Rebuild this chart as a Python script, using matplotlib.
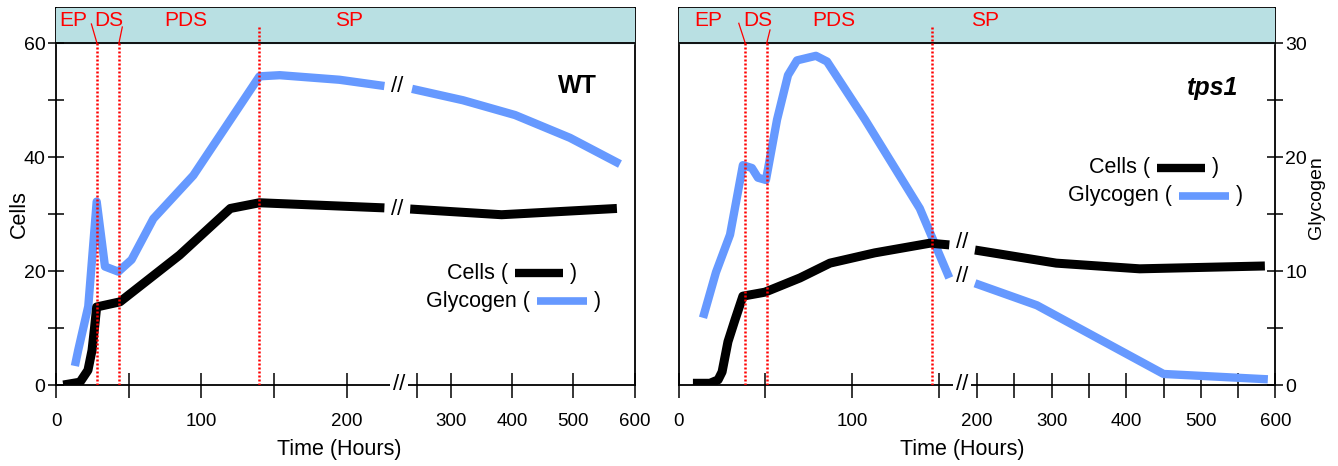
import numpy as np
import matplotlib
matplotlib.use("Agg")
import matplotlib.pyplot as plt
from matplotlib.lines import Line2D

plt.rcParams['font.family'] = ['Liberation Sans', 'DejaVu Sans']

W, H = 1338, 466

# ---- data (time in hours) ----
wt_cells_t = [5, 16.5, 22, 24.8, 26.5, 28, 44, 85, 120, 140, 226, 234, 383, 571]
wt_cells = [0, 0.5, 2.6, 6.1, 10, 13.7, 14.6, 22.8, 31, 32, 31.1, 30.9, 29.9, 31]
wt_glyc_t = [13, 15.3, 22.2, 28, 33.7, 42.9, 52, 67, 94.5, 140, 154, 195, 226,
             237, 320, 405, 494.5, 576]
wt_glyc = [1.67, 3.07, 6.9, 16.1, 10.4, 9.95, 11.0, 14.6, 18.4, 27.1, 27.2, 26.8, 26.25,
           26.0, 25.0, 23.7, 21.7, 19.4]
wt_phases = [28.2, 43.4, 139.8]

tps_cells_t = [8.2, 18, 22.7, 25, 28.4, 32.4, 37, 49.7, 69.9, 87.2, 113, 144.8, 156,
               197, 306, 418, 586]
tps_cells = [0.3, 0.3, 0.9, 2.3, 7.6, 11.4, 15.6, 16.3, 18.8, 21.4, 23.2, 24.9, 24.6,
             23.7, 21.4, 20.4, 20.9]
tps_glyc_t = [14, 21.5, 29.6, 37, 42.2, 45.7, 50.3, 56.7, 63, 68.2, 79.1, 85.5, 107.4,
              139, 156, 197, 280, 450, 590]
tps_glyc = [5.9, 9.9, 13.2, 19.3, 19.05, 18.2, 18.0, 23.3, 27.2, 28.5, 28.9, 28.4, 23.3,
            15.5, 9.4, 8.93, 7.0, 0.97, 0.5]
tps_phases = [38.4, 50.7, 146]

phase_names = ['EP', 'DS', 'PDS', 'SP']
xtick_major = [0, 100, 200, 300, 400, 500, 600]
wt_xminor = [50, 150, 245]
tps_xminor = [50, 150, 250, 350, 450, 550]

BLUE = '#6699ff'
RED = '#ff0000'
BAND = '#b9e0e3'


def px(x, y):
    return x / W, 1 - y / H


def broken_scale(hrs, pos):
    s0 = (pos[1] - pos[0]) / (hrs[1] - hrs[0])
    s1 = (pos[-1] - pos[-2]) / (hrs[-1] - hrs[-2])
    h = np.r_[-1000, hrs, 2000]
    p = np.r_[pos[0] - 1000 * s0, pos, pos[-1] + 1400 * s1]
    return (lambda x: np.interp(x, h, p)), (lambda y: np.interp(y, p, h))


def draw_broken(ax, t, v, brk, **kw):
    t = np.asarray(t, float)
    v = np.asarray(v, float)
    a = t <= brk[0]
    b = t >= brk[1]
    ax.plot(t[a], v[a], **kw)
    ax.plot(t[b], v[b], **kw)


fig = plt.figure(figsize=(W / 100, H / 100), dpi=100)


def panel(x0, x1, knots_h, knots_px, brk, cells_t, cells, glyc_t, glyc, phases, xminor):
    rect = [x0 / W, (H - 385) / H, (x1 - x0) / W, (385 - 8.3) / H]
    ax = fig.add_axes(rect)
    fwd, inv = broken_scale(knots_h, knots_px)
    ax.set_xscale('function', functions=(fwd, inv))
    ax.set_xlim(0, 600)
    ax.set_ylim(0, 30 * 376.7 / 341.7)
    axc = ax.twinx()
    axc.set_ylim(0, 60 * 376.7 / 341.7)

    ax.set_xticks(xtick_major)
    ax.set_xticks(xminor, minor=True)
    ax.tick_params(axis='x', which='both', direction='inout', length=18, width=1.1,
                   labelsize=13.5, pad=11)
    for s in ax.spines.values():
        s.set_linewidth(1.3)
    for s in axc.spines.values():
        s.set_visible(False)

    draw_broken(ax, glyc_t, glyc, brk, color=BLUE, lw=6, solid_capstyle='butt')
    draw_broken(axc, cells_t, cells, brk, color='black', lw=6.5, solid_capstyle='butt')

    axc.axhspan(60, 66.2, color=BAND, zorder=0)
    axc.axhline(60, color='black', lw=1.3, zorder=3)
    for i, t in enumerate(phases):
        top = 60 if i < 2 else 63.1
        axc.plot([t, t], [0, top], color=RED, lw=1.8, dashes=(0.8, 0.8), zorder=4)
    return ax, axc


# ---- left panel: WT ----
ax1, ax1c = panel(56, 634.7, [0, 226, 234, 600], [0, 328.4, 354.2, 578.7], (226, 234),
                  wt_cells_t, wt_cells, wt_glyc_t, wt_glyc, wt_phases, wt_xminor)
ax1.tick_params(axis='y', which='both', left=False, right=False,
                labelleft=False, labelright=False)
ax1c.yaxis.set_ticks_position('left')
ax1c.set_yticks([0, 20, 40, 60])
ax1c.set_yticks([10, 30, 50], minor=True)
ax1c.tick_params(axis='y', which='both', direction='inout', length=12, width=1.1,
                 labelsize=14, pad=1.5)

# ---- right panel: tps1 ----
ax2, ax2c = panel(678.7, 1275.3, [0, 156, 197, 600], [0, 270.6, 296.3, 596.6], (156, 197),
                  tps_cells_t, tps_cells, tps_glyc_t, tps_glyc, tps_phases, tps_xminor)
ax2c.tick_params(axis='y', which='both', left=False, right=False,
                 labelleft=False, labelright=False)
ax2.yaxis.tick_right()
ax2.set_yticks([0, 10, 20, 30])
ax2.set_yticks([5, 15, 25], minor=True)
ax2.tick_params(axis='y', which='both', direction='inout', length=12, width=1.1,
                labelsize=14, pad=1)

# ---- texts ----
fig.text(*px(339, 450), 'Time (Hours)', fontsize=15.5, ha='center', va='center')
fig.text(*px(962, 450), 'Time (Hours)', fontsize=15.5, ha='center', va='center')
fig.text(*px(19, 214), 'Cells', fontsize=15.5, rotation=90, ha='center', va='center')
fig.text(*px(1316, 198), 'Glycogen', fontsize=14, rotation=90, ha='center', va='center')
fig.text(*px(577, 86), 'WT', fontsize=18, fontweight='bold', ha='center', va='center')
fig.text(*px(1213, 88), 'tps1', fontsize=18, fontweight='bold', fontstyle='italic',
         ha='center', va='center')

for name, x in zip(phase_names, [73, 109, 186, 349]):
    fig.text(*px(x, 21), name, color=RED, fontsize=15, ha='center', va='center')
for name, x in zip(phase_names, [708, 758, 834, 985]):
    fig.text(*px(x, 21), name, color=RED, fontsize=15, ha='center', va='center')

for (xa, ya), (xb, yb) in [((91.4, 24), (97, 43.3)), ((122.3, 27), (118.9, 43.3)),
                           ((738.8, 23.3), (745.3, 43.3)), ((770, 30), (766.7, 43.3))]:
    fa, fb = px(xa, ya), px(xb, yb)
    fig.add_artist(Line2D([fa[0], fb[0]], [fa[1], fb[1]], color=RED, lw=0.9))

# legends
for (xc, yc, xg, yg) in [(508, 273, 530, 301), (1150, 168, 1172, 196)]:
    fig.text(*px(xc, yc), 'Cells (', fontsize=15.5, ha='right', va='center')
    fig.text(*px(xg, yg), 'Glycogen (', fontsize=15.5, ha='right', va='center')
    a, b = px(xc + 7, yc), px(xc + 55, yc)
    fig.add_artist(Line2D([a[0], b[0]], [a[1], b[1]], color='black', lw=6,
                          solid_capstyle='butt'))
    a, b = px(xg + 7, yg), px(xg + 57, yg)
    fig.add_artist(Line2D([a[0], b[0]], [a[1], b[1]], color=BLUE, lw=5.5,
                          solid_capstyle='butt'))
    fig.text(*px(xc + 65, yc), ')', fontsize=15.5, ha='center', va='center')
    fig.text(*px(xg + 67, yg), ')', fontsize=15.5, ha='center', va='center')

# axis break marks
for x, y in [(399, 385), (962, 385)]:
    fig.text(*px(x, y), '//', fontsize=16, ha='center', va='center',
             bbox=dict(boxstyle='square,pad=0.12', fc='white', ec='none'))
for x, y in [(397, 87), (397, 209), (962, 243), (962, 276)]:
    fig.text(*px(x, y), '//', fontsize=16, ha='center', va='center')

fig.savefig('out.png', dpi=100)
